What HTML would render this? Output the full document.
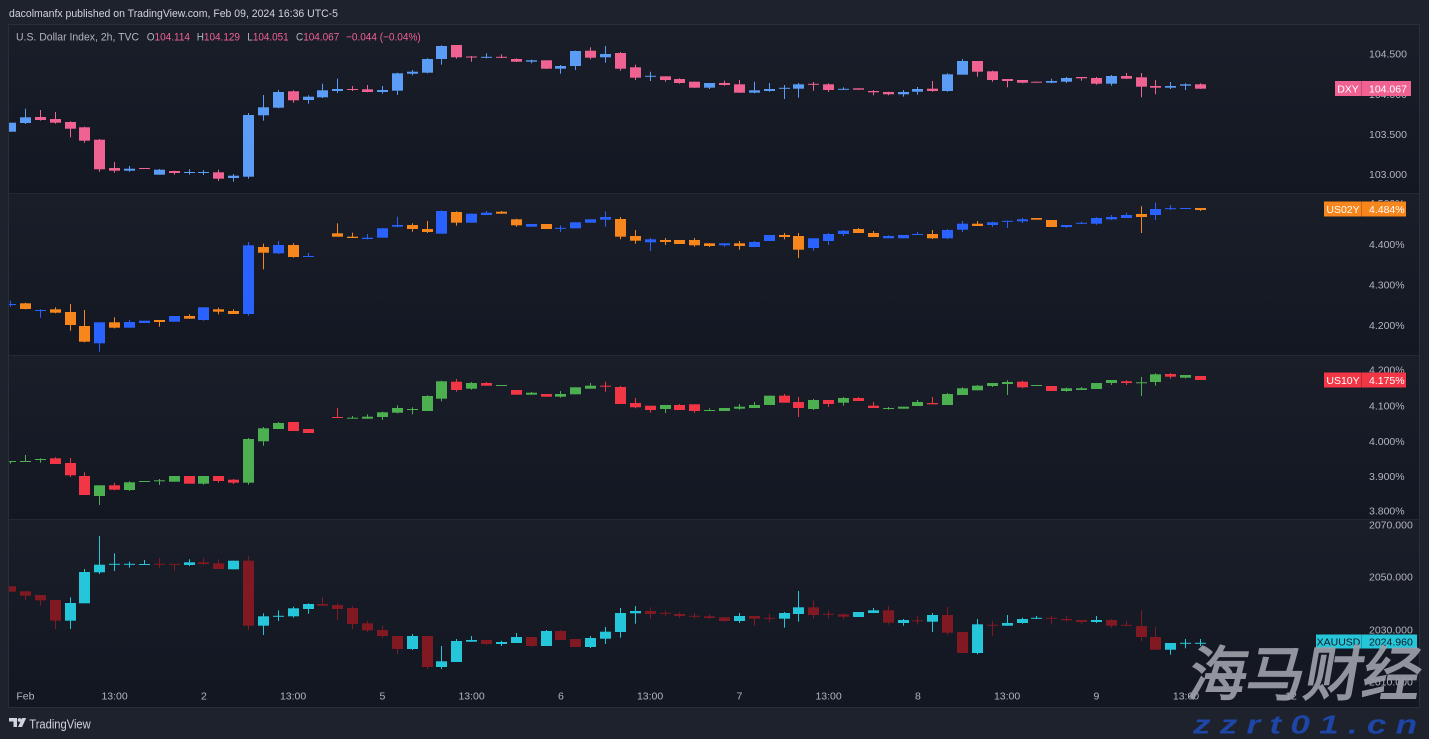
<!DOCTYPE html>
<html><head><meta charset="utf-8">
<style>
html,body{margin:0;padding:0;background:#1e222d;overflow:hidden;}
svg{display:block;}
text{font-family:"Liberation Sans",sans-serif;}
</style></head><body>
<svg id="s" width="1429" height="739" viewBox="0 0 1429 739" xmlns="http://www.w3.org/2000/svg">
<defs>
<linearGradient id="pg" x1="0" y1="0" x2="0" y2="1"><stop offset="0" stop-color="#1a1e29"/><stop offset="1" stop-color="#131722"/></linearGradient>
<clipPath id="cc"><rect x="9" y="25" width="1310" height="661"/></clipPath>
</defs>
<rect width="1429" height="739" fill="#1e222d"/>
<rect x="8.5" y="24.5" width="1411" height="683" fill="#131722" stroke="#2a2e39"/>
<rect x="9" y="25" width="1410" height="168" fill="url(#pg)"/>
<rect x="9" y="194" width="1410" height="161" fill="url(#pg)"/>
<rect x="9" y="356" width="1410" height="163" fill="url(#pg)"/>
<rect x="9" y="520" width="1410" height="166" fill="url(#pg)"/>
<rect x="9" y="193" width="1410" height="1" fill="#242833"/>
<rect x="9" y="355" width="1410" height="1" fill="#242833"/>
<rect x="9" y="519" width="1410" height="1" fill="#242833"/>

<!-- header -->
<text x="9" y="17" font-size="11" fill="#d1d4dc" textLength="329" lengthAdjust="spacingAndGlyphs">dacolmanfx published on TradingView.com, Feb 09, 2024 16:36 UTC-5</text>

<!-- legend -->
<g font-size="11" fill="#b2b5be">
<text x="16" y="40.5" textLength="123" lengthAdjust="spacingAndGlyphs">U.S. Dollar Index, 2h, TVC</text>
<text x="146.7" y="40.5" textLength="43.3" lengthAdjust="spacingAndGlyphs">O<tspan fill="#f06292">104.114</tspan></text>
<text x="196.7" y="40.5" textLength="43.3" lengthAdjust="spacingAndGlyphs">H<tspan fill="#f06292">104.129</tspan></text>
<text x="247.3" y="40.5" textLength="41.4" lengthAdjust="spacingAndGlyphs">L<tspan fill="#f06292">104.051</tspan></text>
<text x="296" y="40.5" textLength="43.3" lengthAdjust="spacingAndGlyphs">C<tspan fill="#f06292">104.067</tspan></text>
<text x="346" y="40.5" fill="#f06292" textLength="74.7" lengthAdjust="spacingAndGlyphs">−0.044 (−0.04%)</text>
</g>

<g id="candles" clip-path="url(#cc)"></g>

<!-- price axis labels -->
<g font-size="10.5" fill="#b2b5be">
<text x="1369" y="57.5">104.500</text>
<text x="1369" y="98">104.000</text>
<text x="1369" y="138">103.500</text>
<text x="1369" y="178">103.000</text>
<text x="1369" y="207">4.500%</text>
<text x="1369" y="248">4.400%</text>
<text x="1369" y="288.3">4.300%</text>
<text x="1369" y="329">4.200%</text>
<text x="1369" y="373.5">4.200%</text>
<text x="1369" y="409.7">4.100%</text>
<text x="1369" y="445">4.000%</text>
<text x="1369" y="480">3.900%</text>
<text x="1369" y="514.7">3.800%</text>
<text x="1369" y="528.3">2070.000</text>
<text x="1369" y="580.7">2050.000</text>
<text x="1369" y="633.3">2030.000</text>
<text x="1369" y="685.7">2010.000</text>
</g>

<!-- price tags -->
<g font-size="10.5">
<rect x="1335" y="81" width="76" height="15" fill="#f06292"/>
<rect x="1361" y="81" width="1" height="15" fill="#c94c76"/>
<text x="1348" y="92.3" fill="#ffffff" text-anchor="middle">DXY</text>
<text x="1369" y="92.3" fill="#ffffff">104.067</text>

<rect x="1324" y="201.5" width="82" height="15" fill="#f7861c"/>
<rect x="1361" y="201.5" width="1" height="15" fill="#c96a12"/>
<text x="1343" y="212.8" fill="#ffffff" text-anchor="middle">US02Y</text>
<text x="1369" y="212.8" fill="#ffffff">4.484%</text>

<rect x="1324" y="372.5" width="82" height="15" fill="#f23645"/>
<rect x="1361" y="372.5" width="1" height="15" fill="#c22a37"/>
<text x="1343" y="383.8" fill="#ffffff" text-anchor="middle">US10Y</text>
<text x="1369" y="383.8" fill="#ffffff">4.175%</text>

<rect x="1316" y="634.5" width="101" height="14" fill="#26c6da"/>
<rect x="1361" y="634.5" width="1" height="14" fill="#1e9fb0"/>
<text x="1338.5" y="645.3" fill="#131722" text-anchor="middle">XAUUSD</text>
<text x="1369" y="645.3" fill="#131722">2024.960</text>
</g>

<!-- time axis -->
<g font-size="10.5" fill="#b2b5be" text-anchor="middle">
<text x="25.4" y="699.5">Feb</text>
<text x="114.6" y="699.5">13:00</text>
<text x="203.9" y="699.5">2</text>
<text x="293.1" y="699.5">13:00</text>
<text x="382.4" y="699.5">5</text>
<text x="471.6" y="699.5">13:00</text>
<text x="560.9" y="699.5">6</text>
<text x="650.1" y="699.5">13:00</text>
<text x="739.4" y="699.5">7</text>
<text x="828.6" y="699.5">13:00</text>
<text x="917.9" y="699.5">8</text>
<text x="1007.1" y="699.5">13:00</text>
<text x="1096.4" y="699.5">9</text>
<text x="1186" y="699.5">13:00</text>
<text x="1291" y="699.5">12</text>
</g>

<!-- footer logo -->
<g fill="#d1d4dc">
<path d="M9 718h8v9h-3.5v-5.5H9z"/>
<circle cx="19.6" cy="720" r="1.9"/>
<path d="M22.2 718h4l-4.2 9h-4z"/>
<text x="29.3" y="728.3" font-size="12.5" textLength="61.4" lengthAdjust="spacingAndGlyphs">TradingView</text>
</g>

<!-- watermark -->
<text transform="translate(1186,695) skewX(-10)" x="0" y="0" font-family="'Noto Sans CJK SC','WenQuanYi Zen Hei',sans-serif" font-weight="900" font-size="59" fill="#9b9ea6" fill-opacity="0.93" textLength="232" lengthAdjust="spacingAndGlyphs">海马财经</text>
<text transform="translate(1193,733.3) scale(1.35,1)" x="0" y="0" font-size="26" font-weight="bold" font-style="italic" fill="#1d46a6" textLength="166" lengthAdjust="spacing">zzrt01.cn</text>
</svg>
<script>
var P1=[
[1,122.7,131.7,122.7,131.7],[1,117.3,123,108.7,124],[0,117,120,110,120.7],[0,119,122.7,112,123.7],[0,122,128.7,121.3,137.3],
[0,127.3,140.7,126.7,142.7],[0,139.7,169.3,139,171.7],[0,168,170.7,162,172.7],[1,168.7,170.7,166,171.7],[0,168,169,168,169],
[1,169.7,174.7,169,174.7],[0,171,173,170.7,174.7],[1,172,173,169.3,174.7],[1,172,173,170,175],[0,172.3,178.7,169.7,181],
[1,175.7,178,174,181.7],[1,115,176.7,113,178.7],[1,107.3,115.3,95,120.7],[1,92,107.7,90,108.3],[0,91.3,100.3,90.3,102.7],
[1,96.7,100,95.3,103.7],[1,90.3,97.3,83.7,98],[1,89,91,78.7,93],[0,89,90,86,91],[0,89.3,92,85,92.3],
[1,90,92,86,93.7],[1,73.3,90.7,72.7,95],[1,71.7,73.7,70,75.3],[1,59,72.7,58.3,73.3],[1,46,59,45.3,64.7],
[0,45,57.3,45,58.7],[0,56.5,57.5,56,61.7],[1,56.8,57.8,53.3,58.3],[0,56.8,57.8,54.3,58],[0,59,61.7,58.3,62],
[1,60.3,61.7,59.7,63.3],[0,60.3,68.7,60.3,69],[1,66,68.7,65,73.7],[1,51,66,50.7,70],[0,50.7,57.7,47.3,59.3],
[1,54,57.3,46,62.7],[0,53,68.7,52,70.7],[0,67.3,77.7,64.7,80],[1,75.8,76.8,71.7,81],[0,76.3,80,76.3,81.7],
[0,79,83,78.3,83.7],[0,81.7,87.7,81.7,88],[1,83,87.7,83,89],[0,83,85,80.7,85.7],[0,84.3,92.7,80,93],
[1,90.3,92.7,81.7,93.3],[1,89,91,83,91.7],[1,87.8,88.8,85,99],[1,84.3,88.7,83,97.7],[0,83.8,84.8,82,90.7],
[0,84.3,90,83.3,92],[1,88.8,89.8,87.3,90],[0,88.3,89.7,88.3,89.7],[0,91,92.3,90,95.3],[0,92,94.3,91.7,95.3],
[1,92,94.3,90,96.7],[1,89,91.7,87,94.7],[0,88.7,91,81,91.7],[1,74.3,91,73.3,91.7],[1,61,74.7,59,74.7],
[0,61,71.7,61,76.7],[0,71.3,80,70.7,81.7],[0,79,81,79,87.3],[0,80,82.7,80,83.3],[0,81.7,82.7,81.7,82.7],
[1,81,82.7,78.7,83.3],[1,78,81.7,77,83],[0,77,78.3,77,80.7],[0,78,83.7,77,84.7],[1,76,83.7,75,85.7],
[0,76,78.7,73,79],[0,77.3,86.7,73,97.3],[0,86,87.7,80,94.3],[1,86,87.7,82,89],[1,84.3,85.7,83.3,90],
[0,84.3,88.7,83.3,89]];
var P2=[
[1,304,305,300.7,306.7],[0,303.3,309,302.7,309.3],[1,310,311,309.3,317.7],[0,309.3,312.7,307.3,313.3],[0,312,325,304,330.7],
[0,326,341.7,310,342.3],[1,322.3,343.3,322.3,351.7],[0,322.3,327.7,317.3,328.3],[1,322,327.7,320,327.7],[1,320.7,323,320.7,323],
[0,320,322,320,326.7],[1,316,321.7,316,321.7],[0,316,318.7,314.3,318.7],[1,307.3,320,307.3,320.7],[0,309.3,311.7,307.7,314.3],
[0,311,314,309.3,314],[1,245.3,314,242,315.7],[0,247,252.7,243.7,269.3],[1,245,253.3,241,254],[0,245,257,243.3,257.7],
[1,256,257,253,257],null,[0,233.3,236.7,223.3,236.7],[0,236.7,238,232.7,238],[1,237.7,239,234,239.3],
[1,228.3,237.7,228.3,237.7],[1,225,226.7,216.7,227.3],[0,225,229,223.3,231.7],[0,229,232,221,233],[1,211,233.7,210.3,233.7],
[0,212,222.7,211.3,225.7],[1,213.7,222.7,213.7,222.7],[1,212.7,215,211,215],[0,211.7,213.7,211,213.7],[0,219.3,225.3,218.7,226.7],
[1,224,226.7,224,226.7],[0,224,229,224,229],[1,227.8,228.8,225.3,232],[1,222.3,228.3,222.3,228.3],[1,219.3,222.7,219.3,222.7],
[1,217,219.7,211.3,226.7],[0,219,236.7,217,239.3],[0,236,240.7,230,243.7],[1,239.3,242.3,238,251],[0,240,242,238,245],
[0,240,244,240,244],[0,240,245.3,238,246.7],[0,243.3,246,243.3,247],[1,243.3,245.3,243.3,246.7],[0,243.3,246,241,249.7],
[1,242,247,241,247],[1,235,241,235,241],[0,235,237,233,239.3],[0,236,249.7,233,258],[1,238.3,248,238.3,250.7],
[1,234,241,233,245],[1,230.7,234,230,236],[0,229,233,228,233],[0,233,237,231,237],[1,236,238.3,235.3,238.3],
[1,235,238.3,235,238.3],[1,234,235,232,235],[0,234,238.3,230,239],[1,230,238.3,229,239],[1,223.7,229.7,221,232],
[0,223.7,226,221,226],[1,222.3,225,221.7,227],[1,220.8,221.8,220.7,228],[1,219.3,221.3,218,223],[0,218,219.7,218,219.7],
[0,220,227,220,227],[1,225,227,225,228],[1,222.8,223.8,221.7,224],[1,218,223.7,217.3,224.7],[1,217,219.3,215,220],
[1,215,218,212.7,218],[0,214,217,206.3,233],[1,209,215,202.7,220],[1,208.2,209.2,205,210],[1,208,209,208,209],
[0,208,210,208,211]];
var P3=[
[1,461,462,461,463.7],[1,461,462,455,462],[1,459,460,458.3,462.7],[0,458.3,464,457.3,464],[0,463,475.3,458,477],
[0,476,495,472.3,495],[1,485.3,496,485.3,505],[0,485.3,489.7,482.7,490.3],[1,482.3,490,481.3,491],[1,481,482,481,482],
[1,480.3,481.3,479,485],[1,476,481.7,476,481.7],[0,476,483.7,476,483.7],[1,476,483.7,476,484.7],[0,476,481,476,482.7],
[0,479.7,482.7,479,484],[1,439,482.7,438,484.7],[1,428.3,441.3,427,445.7],[1,423,429,422,429],[0,422,431,422,431],
[0,429,433,429,433],null,[0,417,418,408,418],[1,417.7,418.7,416,418.7],[1,416.7,418.7,414.3,418.7],
[1,412.3,417,411.7,420],[1,408,412.7,405.3,413.3],[1,409,410,407.3,414.3],[1,396,411,395.3,411],[1,381.3,398.7,380.7,401.3],
[0,381.7,390,379,391.7],[1,383,388.7,382,389.7],[0,383,385.7,382,385.7],[1,385,386,385,386],[0,390,394.7,390,394.7],
[1,392.7,394.7,392,394.7],[0,394,396.7,394,396.7],[1,394,396.7,391,397.7],[1,387.3,394.3,387.3,394.3],[1,385.7,388.7,383,388.7],
[0,385.7,386.7,381.7,391.7],[0,387,404,386,404],[0,403,407.3,398,408.3],[0,405.7,410,405.7,412.7],[1,405,409,405,413],
[0,405,410,404,410],[0,404.3,411,404.3,412.7],[1,410,411,408.3,411],[1,408,411,408,411],[1,406.7,408.7,404,409.7],
[1,405,408,402,408],[1,395.7,405,395.7,405],[0,395.7,402.7,394,402.7],[0,402,408,397,417],[1,400,409,399,410],
[0,400,404,400,407],[1,398,402.7,397,405.7],[0,398,401,397,401],[0,405.7,408,402,408],[1,408,409,407,409.7],
[1,406.7,408.7,406.7,408.7],[1,402,406,400,406],[0,403,404.3,397,404.3],[1,394,405,393,405],[1,388.3,395,387.3,395],
[1,385.7,390.3,385,390.3],[1,383,386,383,387],[1,382,384,380.3,395],[0,381.7,387.3,380.7,388.3],[1,385,386,385,386],
[0,386,391,386,391],[1,388.3,391,387.7,391.7],[1,388.3,390,387,390],[1,383,389,383,389],[1,380,383,380,385],
[0,381.3,383,380.3,385],[1,382.3,383.3,377,396],[1,374.3,382,373.3,385.7],[0,374,376.7,373,378.7],[1,375,377.7,375,378.3],
[0,376,380,376,380]];
var P4=[
[0,586.3,591.7,586.3,591.7],[0,591.3,595.7,591.3,600],[0,595,600.3,595,605.7],[0,600,620.7,600,629],[1,603,620.7,597.3,629],
[1,572,603.3,569,603.3],[1,564.7,572.3,536,574],[1,563.8,564.8,553.3,571],[1,563.8,564.8,561.7,567.7],[1,564,565,560,565],
[0,563.8,564.8,558,568.3],[0,563.8,564.8,564,571],[1,562.3,565,559.3,566],[0,562.3,564,558,565.3],[0,563.3,569,559.3,569],
[1,560.7,569.3,560.7,569.3],[0,560.7,625.7,556.3,630.3],[1,616.3,625.7,613.3,635],[1,615.8,616.8,610.3,621],[1,608.3,616.3,606.7,617.7],
[1,604,609,603.3,613.7],[0,604,605.7,597,605.7],[0,605,609,603.3,620],[0,608,624,606.3,629],[0,623.3,630.3,620.7,632],
[0,630,636,626,638],[0,636,649,636,654],[1,636,649,634,650],[0,636,667,636,669],[1,661.3,667,646,669],
[1,641,662,639,662],[1,640,641.7,636,641.7],[0,640,644,640,645],[1,642,644,640.7,646],[1,637,643,633,643],
[0,637,646,637,647],[1,631,646,630,646],[0,631,640,630,640],[0,639,647,639,647],[1,638,647,636,648],
[1,631.7,638.7,627,644],[1,613,632,608,637.7],[1,611,613.3,606,623.7],[0,611,614,607.3,619],[0,612.8,613.8,610.7,615.7],
[0,614,616,612.3,618],[0,615.8,616.8,613,618.3],[0,616.3,618,614.3,619],[0,617.3,621,617.3,621.7],[1,616,621,613,623],
[0,616,618.7,616,625.7],[0,617.8,618.8,614,622.3],[1,613,618.7,612,627.7],[1,607.3,614,591,621.7],[0,607.3,615,600.3,618.7],
[0,613.8,614.8,610.3,618.7],[0,614.3,616.7,613.3,619.3],[1,612,617,612,617],[1,610.3,613,608,613],[0,610.3,622.7,606,624.7],
[1,620,623,619,625.7],[0,620.3,621.3,616,624.7],[1,615,621.7,613,632],[0,615,632.7,607,634.7],[0,632,653,632,653],
[1,624.3,653,619,654.3],[0,624.8,625.8,620.7,635.7],[1,623,625.7,615,625.7],[1,619,623,617.7,623.7],[1,617.8,618.8,616,619],
[0,617.8,618.8,616,624.3],[0,619,620.3,616,621.7],[0,620,622,620,623.7],[1,620,622,616,623],[0,620,625.7,619,627.7],
[0,624.8,625.8,620.7,626],[0,626,637,610.3,641],[0,637,649.7,627,649.7],[1,643,649.7,643,654.7],[1,642.8,643.8,639,648.3],
[1,642.8,643.8,639,646]];
function draw(d,up,dn){
  var s='';
  for(var i=0;i<d.length;i++){
    var c=d[i]; if(!c) continue;
    var col=c[0]?up:dn;
    var x=10.5+14.875*i;
    var bx=Math.round(x-5.5);
    var wx=bx+5;
    var bh=Math.max(c[2]-c[1],1);
    var wh=Math.max(c[4]-c[3],1);
    s+='<rect x="'+wx+'" y="'+c[3]+'" width="1" height="'+wh.toFixed(2)+'" fill="'+col+'"/>';
    s+='<rect x="'+bx+'" y="'+c[1]+'" width="11" height="'+bh.toFixed(2)+'" fill="'+col+'"/>';
  }
  return s;
}
document.getElementById('candles').innerHTML=
  draw(P1,'#5b9cf6','#f06292')+
  draw(P2,'#2962ff','#f7861c')+
  draw(P3,'#4caf50','#f23645')+
  draw(P4,'#26c6da','#801922');
</script>
</body></html>
